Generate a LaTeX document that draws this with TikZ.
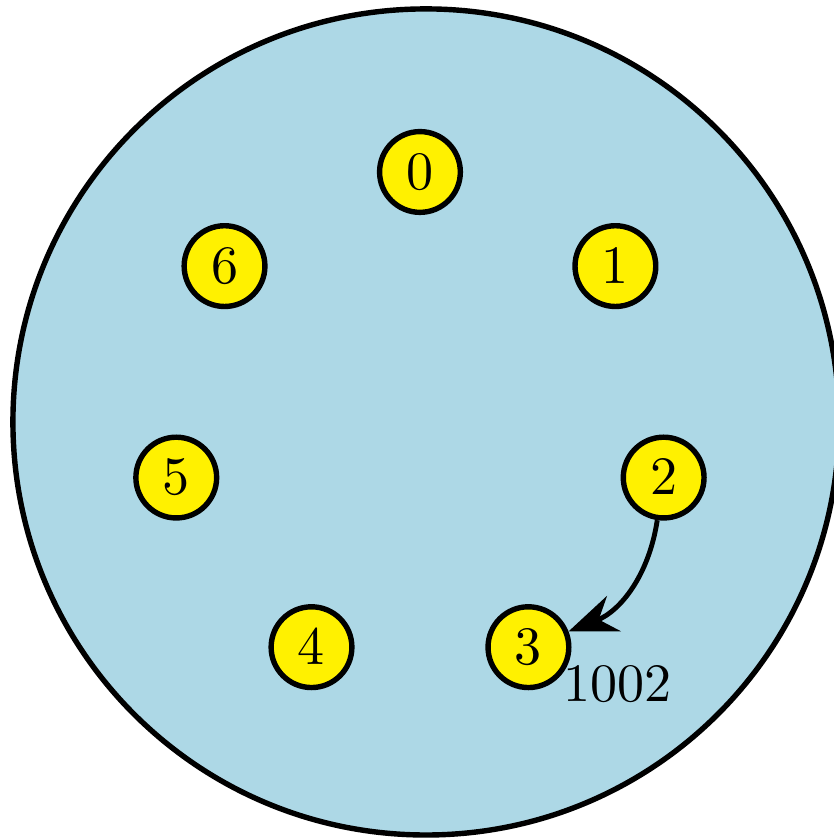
\documentclass[tikz,border=0pt]{standalone}
\usepackage{tikz}
\usetikzlibrary{arrows.meta,positioning}
\definecolor{sea}{RGB}{173,216,230}
\definecolor{token}{RGB}{255,241,0}

\begin{document}
\begin{tikzpicture}[
    vertex/.style={circle,draw=black,fill=token,line width=1pt,minimum size=0.525cm,
      inner sep=0pt,font=\normalsize},
    arrow/.style={-{Stealth[length=9pt,width=7pt,inset=3pt]},line width=0.9pt,draw=black}
  ]
    \useasboundingbox (-2.73,-2.711) rectangle (2.685,2.743);
    \draw[line width=1pt,fill=sea] (0.039,0) circle (2.685);
    % ring of processes
    \foreach \i in {0,...,6}
      \node[vertex] (n\i) at ({90-\i*360/7}:1.625) {$\i$};
    \draw[arrow] (n2) to[bend left] (n3);
    \node[below right=0pt and -5pt of n3.east] (msg) {$1002$};
  \end{tikzpicture}
\end{document}
